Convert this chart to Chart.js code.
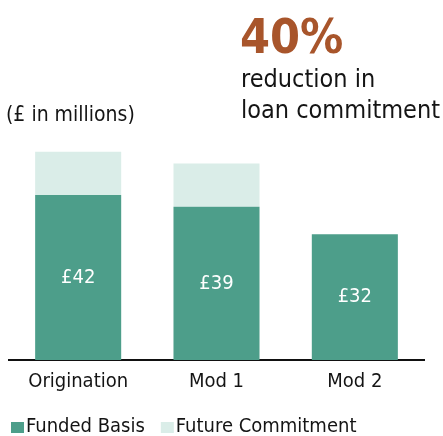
<!DOCTYPE html>
<html>
<head>
<meta charset="utf-8">
<script src="https://cdn.jsdelivr.net/npm/chart.js@4/dist/chart.umd.min.js"></script>
<style>
  body { margin: 0; background: #fff; }
  #wrap { width: 443px; height: 436px; }
</style>
</head>
<body>
<div id="wrap"><canvas id="chart" width="443" height="436"></canvas></div>
<script>
const categories = ['Origination', 'Mod 1', 'Mod 2'];
const fundedBasis = [42, 39, 32];
const futureCommitment = [11, 11, 0];
const seriesNames = ['Funded Basis', 'Future Commitment'];

const FONT = '"DejaVu Sans Condensed", "DejaVu Sans", sans-serif';
const TEAL = '#4d9e8a';
const PALE = '#daede8';
const INK = '#141414';

// value labels inside the funded bars + headline texts + legend
const overlay = {
  id: 'overlay',
  afterDatasetsDraw(chart) {
    const ctx = chart.ctx;
    const meta = chart.getDatasetMeta(0);
    ctx.save();
    ctx.fillStyle = '#fff';
    ctx.font = '20px ' + FONT;
    ctx.textAlign = 'center';
    ctx.textBaseline = 'middle';
    meta.data.forEach((bar, i) => {
      ctx.fillText('£' + fundedBasis[i], bar.x, (bar.y + bar.base) / 2);
    });
    ctx.restore();
  },
  afterDraw(chart) {
    const ctx = chart.ctx;
    ctx.save();
    ctx.textAlign = 'left';
    ctx.textBaseline = 'alphabetic';
    ctx.fillStyle = '#a8552b';
    ctx.font = 'bold 48px ' + FONT;
    ctx.fillText('40%', 240, 53);
    ctx.fillStyle = INK;
    ctx.font = '25px ' + FONT;
    ctx.fillText('reduction in', 241, 87);
    ctx.fillText('loan commitment', 241, 118);
    ctx.font = '21px ' + FONT;
    ctx.fillText('(£ in millions)', 6, 121);

    // legend
    ctx.font = '20px ' + FONT;
    ctx.textBaseline = 'middle';
    let x = 11;
    chart.data.datasets.forEach(ds => {
      ctx.fillStyle = ds.backgroundColor;
      ctx.fillRect(x, 422, 13, 11);
      x += 15;
      ctx.fillStyle = INK;
      ctx.fillText(ds.label, x, 427);
      x += ctx.measureText(ds.label).width + 16;
    });
    ctx.restore();
  }
};

new Chart(document.getElementById('chart'), {
  type: 'bar',
  data: {
    labels: categories,
    datasets: [
      { label: seriesNames[0], data: fundedBasis, backgroundColor: TEAL },
      { label: seriesNames[1], data: futureCommitment, backgroundColor: PALE }
    ]
  },
  options: {
    responsive: false,
    animation: false,
    layout: { padding: { top: 140, left: 9, right: 19, bottom: 40 } },
    datasets: { bar: { barPercentage: 0.622, categoryPercentage: 1 } },
    plugins: {
      legend: { display: false },
      tooltip: { enabled: false }
    },
    scales: {
      x: {
        stacked: true,
        grid: { display: false },
        border: { display: true, color: '#111', width: 2 },
        ticks: { color: INK, padding: 2, font: { family: FONT, size: 20 } }
      },
      y: {
        stacked: true,
        display: false,
        min: 0,
        max: 56
      }
    }
  },
  plugins: [overlay]
});
</script>
</body>
</html>
